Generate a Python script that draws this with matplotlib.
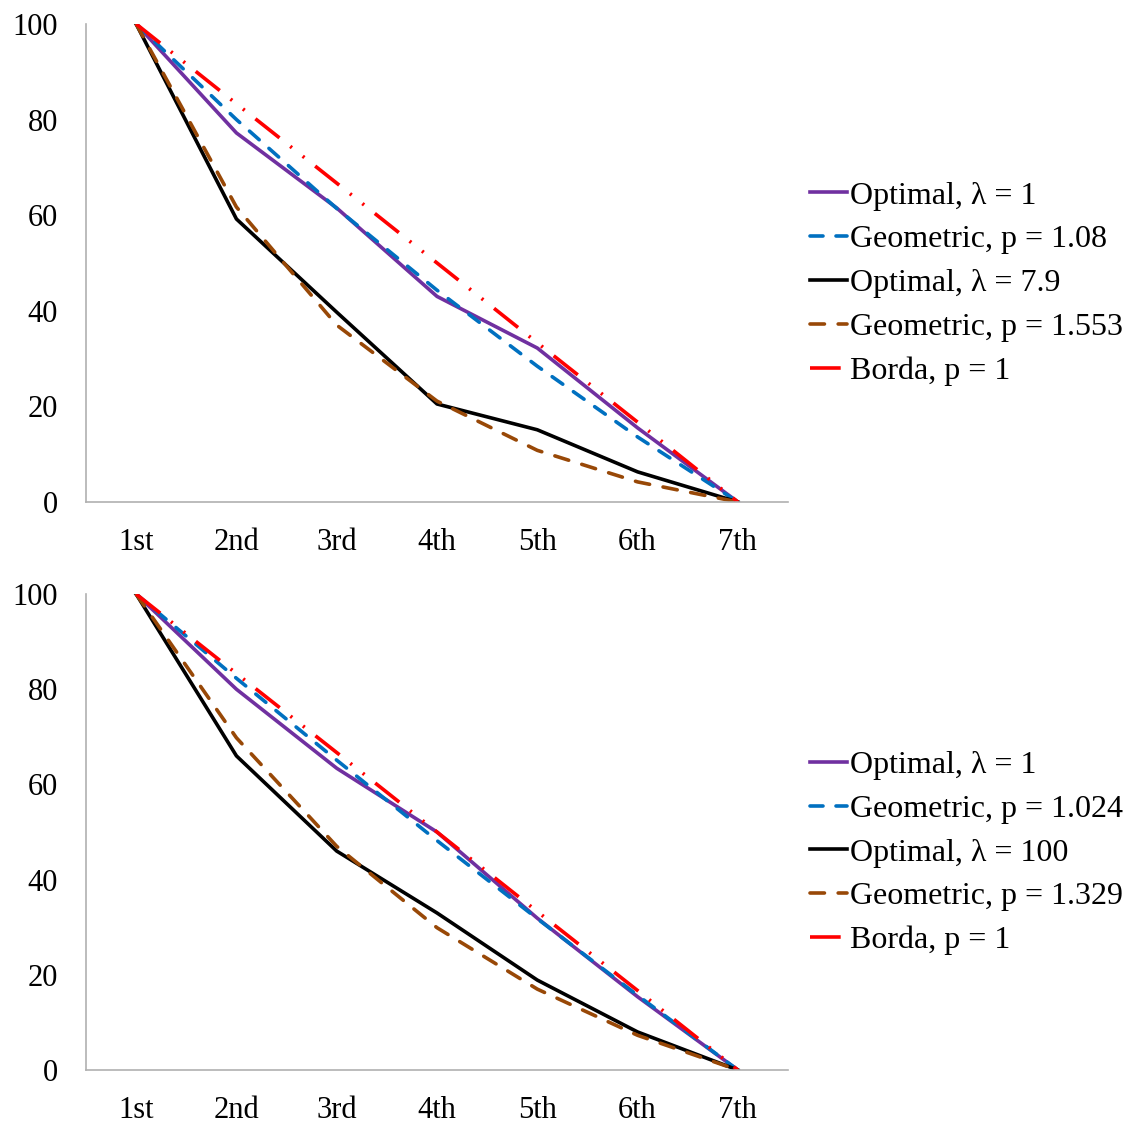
import matplotlib
matplotlib.use('Agg')
import matplotlib.pyplot as plt

plt.rcParams['font.family'] = ['Liberation Serif', 'DejaVu Serif']

ranks = ['1st', '2nd', '3rd', '4th', '5th', '6th', '7th']

# top panel
top_opt1 = [100, 77.2, 61.5, 43.0, 32.2, 15.5, 0]
top_geo108 = [100, 80.0, 61.4, 44.3, 28.4, 13.6, 0]
top_opt79 = [100, 59.2, 39.7, 20.5, 15.1, 6.3, 0]
top_geo1553 = [100, 61.7, 37.0, 21.1, 10.8, 4.2, 0]
top_borda = [100, 83.3, 66.7, 50.0, 33.3, 16.7, 0]
top_labels = ['Optimal, λ = 1', 'Geometric, p = 1.08', 'Optimal, λ = 7.9',
              'Geometric, p = 1.553', 'Borda, p = 1']

# bottom panel
bot_opt1 = [100, 80.0, 63.4, 50.0, 31.9, 15.4, 0]
bot_geo1024 = [100, 82.3, 65.1, 48.2, 31.8, 15.7, 0]
bot_opt100 = [100, 66.0, 46.0, 33.0, 18.9, 8.0, 0]
bot_geo1329 = [100, 69.8, 47.0, 29.9, 17.0, 7.3, 0]
bot_borda = [100, 83.3, 66.7, 50.0, 33.3, 16.7, 0]
bot_labels = ['Optimal, λ = 1', 'Geometric, p = 1.024', 'Optimal, λ = 100',
              'Geometric, p = 1.329', 'Borda, p = 1']

styles = [
    dict(color='#7030A0', linestyle='-'),
    dict(color='#0070C0', dashes=(3.6, 3.6), dash_capstyle='round'),
    dict(color='black', linestyle='-'),
    dict(color='#984807', dashes=(4.0, 3.8), dash_capstyle='round'),
    dict(color='#FF0000', dashes=(8.5, 3.8, 0.6, 3.8, 0.6, 3.8)),
]

fig = plt.figure(figsize=(11.24, 11.24), dpi=100)
ax_top = fig.add_axes([0.0765, 0.5534, 0.6246, 0.4253])
ax_bot = fig.add_axes([0.0765, 0.0480, 0.6246, 0.4235])

panels = [
    (ax_top, [top_opt1, top_geo108, top_opt79, top_geo1553, top_borda], top_labels, 0.7478),
    (ax_bot, [bot_opt1, bot_geo1024, bot_opt100, bot_geo1329, bot_borda], bot_labels, 0.2411),
]

for ax, series, labels, leg_y in panels:
    x = list(range(len(ranks)))
    for vals, lab, st in zip(series, labels, styles):
        ax.plot(x, vals, linewidth=2.6, label=lab, **st)
    ax.set_xlim(-0.5, 6.5)
    ax.set_ylim(0, 100)
    ax.set_xticks(x)
    ax.set_xticklabels(ranks)
    ax.set_yticks([0, 20, 40, 60, 80, 100])
    ax.tick_params(axis='both', length=0, labelsize=22)
    ax.tick_params(axis='y', pad=20)
    ax.tick_params(axis='x', pad=19)
    for s in ['top', 'right']:
        ax.spines[s].set_visible(False)
    for s in ['left', 'bottom']:
        ax.spines[s].set_color('#b0b0b0')
        ax.spines[s].set_linewidth(1.2)
    ax.legend(loc='center left', bbox_to_anchor=(0.7206, leg_y), bbox_transform=fig.transFigure,
              frameon=False, fontsize=23, handlelength=1.15, handletextpad=0.1,
              labelspacing=0.45, borderpad=0, borderaxespad=0)

fig.savefig('out.png', dpi=100)
